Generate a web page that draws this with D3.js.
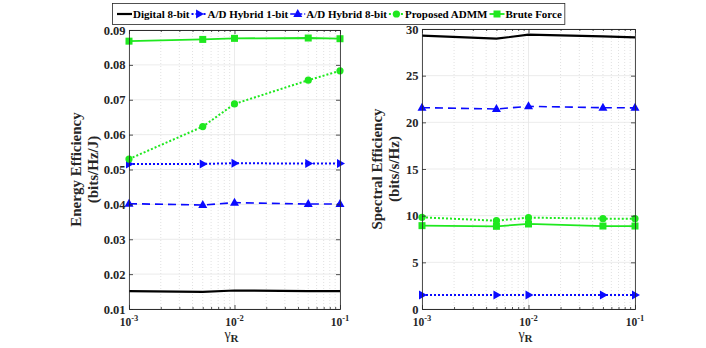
<!DOCTYPE html>
<html>
<head>
<meta charset="utf-8">
<script src="https://cdn.jsdelivr.net/npm/d3@7"></script>
<style>
  body { margin: 0; background: #fff; }
  svg { display: block; font-family: "Liberation Serif", "Times New Roman", serif; font-weight: bold; }
</style>
</head>
<body>
<div id="chart"></div>
<script>
// data
var gammaR = [0.001, 0.005, 0.01, 0.05, 0.1];
var seriesNames = ['Digital 8-bit', 'A/D Hybrid 1-bit', 'A/D Hybrid 8-bit', 'Proposed ADMM', 'Brute Force'];

var eeDigital = [0.0151, 0.0149, 0.0153, 0.0151, 0.0151];
var eeHybrid1 = [0.0516, 0.0516, 0.0518, 0.0517, 0.0517];
var eeHybrid8 = [0.0402, 0.0398, 0.0405, 0.0401, 0.0401];
var eeAdmm = [0.0530, 0.0623, 0.0688, 0.0756, 0.0783];
var eeBrute = [0.0868, 0.0873, 0.0876, 0.0877, 0.0875];

var seDigital = [29.29, 28.96, 29.39, 29.21, 29.11];
var seHybrid1 = [1.5, 1.5, 1.5, 1.5, 1.5];
var seHybrid8 = [21.57, 21.43, 21.71, 21.57, 21.55];
var seAdmm = [9.82, 9.46, 9.79, 9.68, 9.68];
var seBrute = [8.93, 8.86, 9.11, 8.89, 8.89];

var eeTicks = [0.01, 0.02, 0.03, 0.04, 0.05, 0.06, 0.07, 0.08, 0.09];
var seTicks = [0, 5, 10, 15, 20, 25, 30];
var xTicks = [0.001, 0.01, 0.1];

var chart_width = 706;
var chart_height = 348;

var green = '#1fe81f';
var blue = '#0a0aff';

// per-series styling
var styles = [
  { color: '#000', width: 2.2, dash: null, marker: 'none' },
  { color: blue, width: 2, dash: '2,2', marker: 'right' },
  { color: blue, width: 1.6, dash: '8,5', marker: 'up' },
  { color: green, width: 2, dash: '2,2', marker: 'circle' },
  { color: green, width: 1.8, dash: null, marker: 'square' }
];

var svg = d3.select('#chart')
  .append('svg')
  .attr('width', chart_width)
  .attr('height', chart_height);

function drawMarker(g, type, x, y, color) {
  if (type === 'circle') {
    g.append('circle').attr('cx', x).attr('cy', y).attr('r', 3.6).attr('fill', color);
  } else if (type === 'square') {
    g.append('rect').attr('x', x - 3.5).attr('y', y - 3.5).attr('width', 7).attr('height', 7).attr('fill', color);
  } else if (type === 'up') {
    g.append('path').attr('d', 'M' + x + ',' + (y - 5) + 'L' + (x + 4.5) + ',' + (y + 3) + 'L' + (x - 4.5) + ',' + (y + 3) + 'Z').attr('fill', color);
  } else if (type === 'right') {
    g.append('path').attr('d', 'M' + (x + 5) + ',' + y + 'L' + (x - 3) + ',' + (y - 4.5) + 'L' + (x - 3) + ',' + (y + 4.5) + 'Z').attr('fill', color);
  }
}

function drawPanel(opts) {
  var x = d3.scaleLog().domain([0.001, 0.1]).range([opts.left, opts.right]);
  var y = d3.scaleLinear().domain(opts.domain).range([opts.bottom, opts.top]);
  var g = svg.append('g');

  // minor grid on x
  var minor = [];
  [0.001, 0.01].forEach(function (dec) {
    for (var k = 2; k <= 9; k++) minor.push(dec * k);
  });
  g.selectAll('.minor').data(minor).enter().append('line')
    .attr('x1', function (d) { return x(d); }).attr('x2', function (d) { return x(d); })
    .attr('y1', opts.top).attr('y2', opts.bottom)
    .attr('stroke', '#d4d4d4').attr('stroke-width', 0.7).attr('stroke-dasharray', '1,2');
  g.selectAll('.gx').data(xTicks).enter().append('line')
    .attr('x1', function (d) { return x(d); }).attr('x2', function (d) { return x(d); })
    .attr('y1', opts.top).attr('y2', opts.bottom)
    .attr('stroke', '#e6e6e6').attr('stroke-width', 0.8);
  g.selectAll('.gy').data(opts.ticks).enter().append('line')
    .attr('x1', opts.left).attr('x2', opts.right)
    .attr('y1', function (d) { return y(d); }).attr('y2', function (d) { return y(d); })
    .attr('stroke', '#e6e6e6').attr('stroke-width', 0.8);

  // lines + markers
  var line = d3.line()
    .x(function (d, i) { return x(gammaR[i]); })
    .y(function (d) { return y(d); });
  opts.series.forEach(function (vals, s) {
    var st = styles[s];
    g.append('path')
      .attr('d', line(vals))
      .attr('fill', 'none')
      .attr('stroke', st.color)
      .attr('stroke-width', st.width)
      .attr('stroke-dasharray', st.dash);
    vals.forEach(function (v, i) {
      drawMarker(g, st.marker, x(gammaR[i]), y(v), st.color);
    });
  });

  // box axes with inward ticks
  var axisColor = '#262626';
  var axL = d3.axisLeft(y).tickValues(opts.ticks).tickSizeInner(-4).tickSizeOuter(0).tickPadding(3.5).tickFormat(opts.fmt);
  var axR = d3.axisRight(y).tickValues(opts.ticks).tickSizeInner(-4).tickSizeOuter(0).tickFormat('');
  var axB = d3.axisBottom(x).tickValues(xTicks).tickSizeInner(-4).tickSizeOuter(0).tickFormat('');
  var axT = d3.axisTop(x).tickValues(xTicks).tickSizeInner(-4).tickSizeOuter(0).tickFormat('');
  var axBm = d3.axisBottom(x).tickValues(minor).tickSizeInner(-2).tickSizeOuter(0).tickFormat('');
  var axTm = d3.axisTop(x).tickValues(minor).tickSizeInner(-2).tickSizeOuter(0).tickFormat('');

  [[axL, 'translate(' + opts.left + ',0)'], [axR, 'translate(' + opts.right + ',0)'],
   [axB, 'translate(0,' + opts.bottom + ')'], [axT, 'translate(0,' + opts.top + ')'],
   [axBm, 'translate(0,' + opts.bottom + ')'], [axTm, 'translate(0,' + opts.top + ')']].forEach(function (a) {
    var ag = g.append('g').attr('transform', a[1]).call(a[0]);
    ag.selectAll('path, line').attr('stroke', axisColor).attr('stroke-width', 0.8);
    ag.selectAll('text').attr('fill', '#262626').style('font-size', '12.5px').style('font-family', '"Liberation Serif", serif').style('font-weight', 'bold');
  });

  // x tick labels as 10^n
  xTicks.forEach(function (t) {
    var txt = g.append('text')
      .attr('x', x(t)).attr('y', opts.bottom + 17)
      .attr('text-anchor', 'middle')
      .attr('fill', '#262626')
      .style('font-size', '11.5px');
    txt.append('tspan').text('10');
    txt.append('tspan').attr('dy', -5).style('font-size', '8.5px').text(String(Math.round(Math.log10(t))));
  });

  // x label gamma_R
  var xl = g.append('text')
    .attr('x', (opts.left + opts.right) / 2 - 3).attr('y', opts.bottom + 30)
    .attr('text-anchor', 'middle')
    .attr('fill', '#262626')
    .style('font-size', '14px').style('font-weight', 'normal');
  xl.append('tspan').text('\u03b3');
  xl.append('tspan').attr('dy', 3).style('font-size', '11px').style('font-weight', 'bold').text('R');

  // y label, two lines
  var yl = g.append('text')
    .attr('transform', 'translate(' + opts.labelX + ',' + ((opts.top + opts.bottom) / 2) + ') rotate(-90)')
    .attr('text-anchor', 'middle')
    .attr('fill', '#262626')
    .style('font-size', '15px');
  yl.append('tspan').attr('x', 0).attr('dy', 0).text(opts.title[0]);
  yl.append('tspan').attr('x', 0).attr('dy', 17).text(opts.title[1]);
}

drawPanel({
  left: 129, right: 340, top: 30, bottom: 309,
  domain: [0.01, 0.09], ticks: eeTicks, fmt: d3.format('.2f'),
  series: [eeDigital, eeHybrid1, eeHybrid8, eeAdmm, eeBrute],
  title: ['Energy Efficiency', '(bits/Hz/J)'], labelX: 81
});

drawPanel({
  left: 422, right: 635, top: 29, bottom: 309,
  domain: [0, 30], ticks: seTicks, fmt: d3.format('d'),
  series: [seDigital, seHybrid1, seHybrid8, seAdmm, seBrute],
  title: ['Spectral Efficiency', '(bits/s/Hz)'], labelX: 382
});

// legend
var legend = svg.append('g');
var legendBox = legend.append('rect')
  .attr('x', 112.5).attr('y', 3.5).attr('height', 21)
  .attr('fill', '#fff').attr('stroke', '#262626').attr('stroke-width', 0.8);
var lx = 117;
seriesNames.forEach(function (name, i) {
  var st = styles[i];
  var item = legend.append('g');
  item.append('line')
    .attr('x1', lx).attr('x2', lx + 15).attr('y1', 14).attr('y2', 14)
    .attr('stroke', st.color).attr('stroke-width', st.width)
    .attr('stroke-dasharray', st.dash ? (i === 2 ? '5,2' : '2,2') : null);
  drawMarker(item, st.marker, lx + 7.5, 14, st.color);
  var t = item.append('text')
    .attr('x', lx + 16).attr('y', 18)
    .attr('fill', '#000')
    .style('font-size', '11px')
    .text(name);
  lx += 16 + t.node().getComputedTextLength() + 2;
});
legendBox.attr('width', lx - 112.5 + 1);
</script>
</body>
</html>
